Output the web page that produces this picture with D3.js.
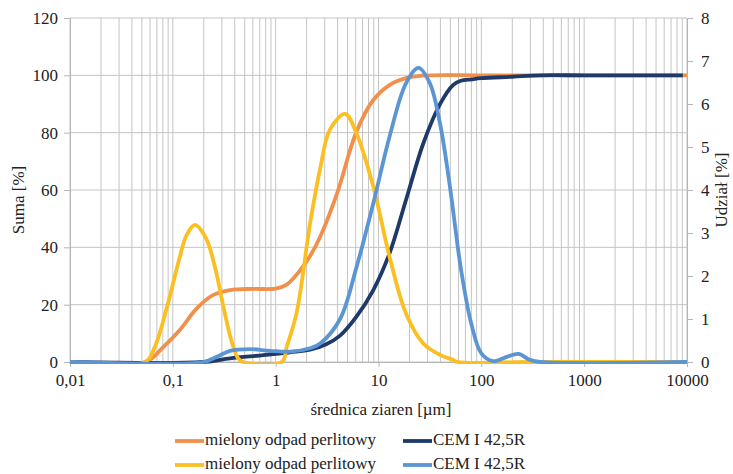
<!DOCTYPE html>
<html>
<head>
<meta charset="utf-8">
<script src="https://cdn.jsdelivr.net/npm/d3@7"></script>
<style>
  body { margin: 0; background: #fff; }
  text { font-family: "Liberation Serif", "Times New Roman", serif; fill: #222; }
</style>
</head>
<body>
<div id="chart"></div>
<script>
// cumulative curves (left axis, Suma [%])
const perlitSumSize = [0.01, 0.054, 0.081, 0.117, 0.171, 0.248, 0.36, 0.6, 1.0, 1.28, 1.73, 2.16, 2.71, 3.97, 6.1, 8.9, 12.8, 18.5, 27, 100, 1000, 10000]
const perlitSum     = [0, 0, 5.3, 11.2, 18.7, 23.4, 25.1, 25.5, 25.6, 27, 32, 37, 43.7, 59, 80.3, 91.4, 96.6, 99, 99.9, 100, 100, 100]

const cemSumSize = [0.01, 0.198, 0.36, 0.76, 1.38, 2.16, 3.1, 4.23, 6.1, 8.9, 12.8, 18.5, 27.3, 40, 53, 63, 80, 100, 200, 375, 1000, 9100]
const cemSum     = [0, 0, 1.3, 2.4, 3.4, 4.3, 6.2, 9.2, 15.8, 25.1, 37.9, 56.5, 76.3, 90.2, 96.6, 98.1, 98.6, 99, 99.5, 100, 100, 100]

// distribution curves (right axis, Udzial [%])
const perlitDistSize = [0.01, 0.054, 0.067, 0.088, 0.117, 0.136, 0.164, 0.21, 0.256, 0.31, 0.37, 0.43, 0.48, 1.15, 1.28, 1.6, 2.17, 2.71, 3.36, 4.74, 6.1, 8.9, 12.8, 18.5, 27.3, 40, 53, 59, 300, 10000]
const perlitDist     = [0, 0, 0.36, 1.29, 2.45, 2.95, 3.19, 2.88, 2.22, 1.29, 0.51, 0.09, 0, 0, 0.35, 1.15, 3.25, 4.5, 5.4, 5.77, 5.32, 4.08, 2.45, 1.13, 0.43, 0.16, 0.05, 0, 0, 0]

const cemDistSize = [0.01, 0.198, 0.267, 0.36, 0.56, 0.88, 1.38, 2.16, 2.71, 4.23, 6.1, 8.9, 12.8, 18.5, 24.5, 31.6, 40, 50, 63, 79.7, 100, 130, 177, 229, 297, 375, 10000]
const cemDist     = [0, 0, 0.12, 0.26, 0.3, 0.26, 0.24, 0.32, 0.43, 1.0, 2.2, 3.69, 5.24, 6.48, 6.84, 6.48, 5.5, 4.0, 2.2, 0.9, 0.2, 0.02, 0.12, 0.19, 0.05, 0, 0]

const xTicks = [0.01, 0.1, 1, 10, 100, 1000, 10000]
const xTickLabels = ["0,01", "0,1", "1", "10", "100", "1000", "10000"]
const leftTicks = [0, 20, 40, 60, 80, 100, 120]
const rightTicks = [0, 1, 2, 3, 4, 5, 6, 7, 8]

const seriesNames = ["mielony odpad perlitowy", "CEM I 42,5R", "mielony odpad perlitowy", "CEM I 42,5R"]
const seriesColors = ["#F0904A", "#1F3A68", "#FBBF22", "#5B95D3"]

const width = 733, height = 474
const plotLeft = 70, plotRight = 687, plotTop = 18, plotBottom = 362

const svg = d3.select("#chart").append("svg")
    .attr("width", width).attr("height", height)

const x = d3.scaleLog().domain([0.01, 10000]).range([plotLeft, plotRight])
const yL = d3.scaleLinear().domain([0, 120]).range([plotBottom, plotTop])
const yR = d3.scaleLinear().domain([0, 8]).range([plotBottom, plotTop])

// vertical grid, every minor step of each decade
const minor = []
for (let e = -2; e < 4; e++) {
    for (let m = 1; m < 10; m++) minor.push(m * Math.pow(10, e))
}
minor.push(10000)
svg.append("g").selectAll("line").data(minor).enter().append("line")
    .attr("x1", d => x(d)).attr("x2", d => x(d))
    .attr("y1", plotTop).attr("y2", plotBottom)
    .style("stroke", "#c4c4c4").style("stroke-width", 1)

// horizontal grid
svg.append("g").selectAll("line").data(leftTicks).enter().append("line")
    .attr("x1", plotLeft).attr("x2", plotRight)
    .attr("y1", d => yL(d)).attr("y2", d => yL(d))
    .style("stroke", "#c4c4c4").style("stroke-width", 1)

// axes
const axisStyle = g => {
    g.select(".domain").style("stroke", "#b5b5b5")
    g.selectAll(".tick line").style("stroke", "#b5b5b5")
    g.selectAll("text").style("font-size", "17px").style("font-family", "Liberation Serif").style("fill", "#222")
}

svg.append("g").attr("transform", `translate(${plotLeft},0)`)
    .call(d3.axisLeft(yL).tickValues(leftTicks).tickSize(6).tickPadding(6).tickSizeOuter(0))
    .call(axisStyle)

svg.append("g").attr("transform", `translate(${plotRight},0)`)
    .call(d3.axisRight(yR).tickValues(rightTicks).tickSize(6).tickPadding(8).tickSizeOuter(0))
    .call(axisStyle)

svg.append("g").attr("transform", `translate(0,${plotBottom})`)
    .call(d3.axisBottom(x).tickValues(xTicks).tickFormat((d, i) => xTickLabels[i]).tickSize(5).tickPadding(7).tickSizeOuter(0))
    .call(axisStyle)

// Excel cuts the smoothed lines at the axis minimum
svg.append("clipPath").attr("id", "plotClip")
    .append("rect").attr("x", 0).attr("y", plotTop - 10)
    .attr("width", width).attr("height", plotBottom - plotTop + 12)

const lineL = d3.line().x(d => x(d[0])).y(d => yL(d[1])).curve(d3.curveCatmullRom.alpha(0.5))
const lineR = d3.line().x(d => x(d[0])).y(d => yR(d[1])).curve(d3.curveCatmullRom.alpha(0.5))

const draw = (sizes, vals, gen, color) => {
    svg.append("path")
        .datum(sizes.map((s, i) => [s, vals[i]]))
        .attr("d", gen)
        .attr("clip-path", "url(#plotClip)")
        .style("fill", "none")
        .style("stroke", color)
        .style("stroke-width", 3.8)
        .style("stroke-linejoin", "round")
}
draw(perlitSumSize, perlitSum, lineL, seriesColors[0])
draw(cemSumSize, cemSum, lineL, seriesColors[1])
draw(perlitDistSize, perlitDist, lineR, seriesColors[2])
draw(cemDistSize, cemDist, lineR, seriesColors[3])

// axis titles
svg.append("text").attr("transform", "translate(24,200) rotate(-90)")
    .attr("text-anchor", "middle").style("font-size", "17px").text("Suma [%]")
svg.append("text").attr("transform", "translate(727,190) rotate(-90)")
    .attr("text-anchor", "middle").style("font-size", "17px").text("Udział [%]")
svg.append("text").attr("x", 381).attr("y", 415)
    .attr("text-anchor", "middle").style("font-size", "17px").text("średnica ziaren [µm]")

// legend: Excel fills rows first
const legendPos = [[175, 441], [403, 441], [175, 465], [403, 465]]
seriesNames.forEach((name, i) => {
    const [lx, ly] = legendPos[i]
    svg.append("line").attr("x1", lx).attr("x2", lx + 29).attr("y1", ly).attr("y2", ly)
        .style("stroke", seriesColors[i]).style("stroke-width", 3.8)
    svg.append("text").attr("x", lx + 30).attr("y", ly + 4).style("font-size", "17px").text(name)
})
</script>
</body>
</html>
